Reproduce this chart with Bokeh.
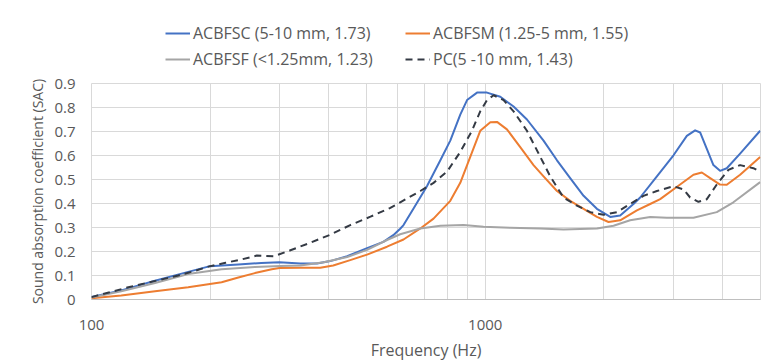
from bokeh.plotting import figure
from bokeh.layouts import column
from bokeh.models import Range1d, FixedTicker, CustomJSTickFormatter, Legend, LegendItem
from bokeh.embed import file_html
from bokeh.resources import INLINE

series_names = ["ACBFSC (5-10 mm, 1.73)", "ACBFSM (1.25-5 mm, 1.55)",
                "ACBFSF (<1.25mm, 1.23)", "PC(5 -10 mm, 1.43)"]
series_colors = ["#4472C4", "#ED7D31", "#A5A5A5", "#343a44"]
series_dash = ["solid", "solid", "solid", "7 5"]

freq_acbfsc = [100, 119, 145, 176, 200, 236, 270, 300, 339, 374, 404, 446, 501, 551, 584, 608,
               620, 658, 711, 769, 815, 864, 899, 953, 1010, 1092, 1180, 1276, 1406, 1521, 1643,
               1777, 1921, 2077, 2201, 2379, 2474, 2728, 3006, 3250, 3412, 3513, 3653, 3796, 3947,
               4105, 4438, 4990]
sac_acbfsc = [0.010, 0.038, 0.078, 0.115, 0.139, 0.146, 0.152, 0.155, 0.150, 0.150, 0.160, 0.180,
              0.214, 0.240, 0.268, 0.295, 0.310, 0.380, 0.472, 0.580, 0.662, 0.770, 0.831, 0.862,
              0.862, 0.845, 0.804, 0.750, 0.662, 0.580, 0.506, 0.432, 0.378, 0.344, 0.350, 0.398,
              0.425, 0.513, 0.601, 0.682, 0.705, 0.696, 0.628, 0.560, 0.536, 0.547, 0.608, 0.703]

freq_acbfsm = [100, 119, 145, 176, 214, 236, 260, 287, 300, 340, 381, 411, 454, 501, 563, 620,
               684, 739, 815, 864, 916, 971, 1030, 1071, 1135, 1227, 1326, 1406, 1521, 1643, 1777,
               1921, 2056, 2201, 2427, 2623, 2781, 3125, 3378, 3548, 3725, 3947, 4105, 4438, 4990]
sac_acbfsm = [0.005, 0.017, 0.034, 0.051, 0.072, 0.092, 0.110, 0.126, 0.131, 0.132, 0.132, 0.142,
              0.164, 0.187, 0.220, 0.250, 0.296, 0.337, 0.411, 0.486, 0.594, 0.703, 0.739, 0.740,
              0.709, 0.635, 0.560, 0.513, 0.452, 0.411, 0.378, 0.344, 0.323, 0.330, 0.371, 0.398,
              0.418, 0.479, 0.520, 0.529, 0.506, 0.479, 0.478, 0.520, 0.594]

freq_acbfsf = [100, 119, 145, 176, 214, 260, 302, 339, 389, 446, 501, 563, 608, 684, 769, 881,
               990, 1157, 1380, 1580, 1921, 2117, 2333, 2623, 2892, 3378, 3872, 4267, 4990]
sac_acbfsf = [0.008, 0.034, 0.069, 0.106, 0.126, 0.135, 0.140, 0.142, 0.155, 0.177, 0.207, 0.248,
              0.272, 0.296, 0.307, 0.310, 0.303, 0.299, 0.296, 0.292, 0.296, 0.307, 0.330, 0.344,
              0.341, 0.341, 0.364, 0.405, 0.489]

freq_pc = [100, 110, 124, 138, 152, 166, 183, 198, 219, 239, 263, 290, 320, 360, 404, 454, 511,
           574, 608, 684, 739, 800, 864, 925, 971, 1010, 1050, 1113, 1180, 1276, 1366, 1462, 1580,
           1709, 1848, 1997, 2160, 2333, 2522, 2728, 3006, 3187, 3313, 3478, 3653, 3872, 4144,
           4438, 4797, 4990]
sac_pc = [0.010, 0.028, 0.051, 0.069, 0.085, 0.100, 0.119, 0.137, 0.153, 0.166, 0.183, 0.180,
          0.205, 0.237, 0.270, 0.310, 0.345, 0.382, 0.405, 0.452, 0.486, 0.533, 0.615, 0.703,
          0.784, 0.831, 0.851, 0.831, 0.784, 0.703, 0.608, 0.513, 0.425, 0.391, 0.364, 0.353,
          0.364, 0.398, 0.432, 0.452, 0.472, 0.459, 0.425, 0.407, 0.418, 0.479, 0.540, 0.560,
          0.547, 0.533]

x_ticks = [100, 1000]
x_minor_ticks = [200, 300, 400, 500, 600, 700, 800, 900, 2000, 3000, 4000, 5000]
y_ticks = [0, 0.1, 0.2, 0.3, 0.4, 0.5, 0.6, 0.7, 0.8, 0.9]

all_freq = [freq_acbfsc, freq_acbfsm, freq_acbfsf, freq_pc]
all_sac = [sac_acbfsc, sac_acbfsm, sac_acbfsf, sac_pc]

FONT = "Open Sans"
TXT = "#595959"
GRID = "#d9d9d9"

# ---- legend strip: separate figure (its ranges keep the copies of the series out of view) ----
lg = figure(width=776, height=72, x_range=Range1d(-2, -1), y_range=Range1d(-2, -1),
            output_backend="svg", toolbar_location=None,
            x_axis_location=None, y_axis_location=None,
            min_border_left=0, min_border_right=0, min_border_top=0, min_border_bottom=0)
lg.outline_line_color = None
lg.xgrid.visible = False
lg.ygrid.visible = False
lg_renderers = [lg.line(fx, sy, line_color=c, line_width=2, line_dash=d)
                for fx, sy, c, d in zip(all_freq, all_sac, series_colors, series_dash)]
legend = Legend(items=[LegendItem(label=n, renderers=[r]) for n, r in zip(series_names, lg_renderers)],
                orientation="horizontal", ncols=2, location=(74, 2),
                label_text_font=FONT, label_text_font_size="16px", label_text_color=TXT,
                glyph_width=25, glyph_height=20, label_height=20, label_width=208,
                label_standoff=3, spacing=4, padding=0, margin=0,
                border_line_color=None, background_fill_alpha=0)
lg.add_layout(legend, "center")

# ---- main chart ----
p = figure(width=776, height=291, x_axis_type="log",
           x_range=Range1d(100, 5000), y_range=Range1d(0, 0.9),
           output_backend="svg", toolbar_location=None,
           min_border_left=91, min_border_right=16, min_border_top=11, min_border_bottom=59)
p.background_fill_color = "white"
p.border_fill_color = "white"
p.outline_line_color = GRID

for fx, sy, col, dash in zip(all_freq, all_sac, series_colors, series_dash):
    p.line(fx, sy, line_color=col, line_width=2, line_dash=dash, line_join="round")

p.xaxis.ticker = FixedTicker(ticks=x_ticks, minor_ticks=x_minor_ticks)
p.xaxis.formatter = CustomJSTickFormatter(code="return tick.toFixed(0);")
p.yaxis.ticker = FixedTicker(ticks=y_ticks)
p.yaxis.formatter = CustomJSTickFormatter(code="return tick === 0 ? '0' : tick.toFixed(1);")

for ax in (p.xaxis[0], p.yaxis[0]):
    ax.major_tick_line_color = None
    ax.minor_tick_line_color = None
    ax.major_label_text_font = FONT
    ax.major_label_text_font_size = "15px"
    ax.major_label_text_color = TXT
    ax.axis_label_text_font = FONT
    ax.axis_label_text_color = TXT
    ax.axis_label_text_font_style = "normal"

p.xaxis.axis_label_text_font_size = "16px"
p.yaxis.axis_label_text_font_size = "14px"
p.xaxis.axis_line_color = "#bfbfbf"
p.yaxis.axis_line_color = None
p.xaxis.axis_label = "Frequency (Hz)"
p.yaxis.axis_label = "Sound absorption coefficient (SAC)"
p.xaxis.major_label_standoff = 14
p.xaxis.axis_label_standoff = 6
p.yaxis.major_label_standoff = 10
p.yaxis.axis_label_standoff = 4

p.xgrid.grid_line_color = GRID
p.xgrid.minor_grid_line_color = GRID
p.ygrid.grid_line_color = GRID

layout = column(lg, p, spacing=0)
open("out.html", "w").write(file_html(layout, INLINE))
